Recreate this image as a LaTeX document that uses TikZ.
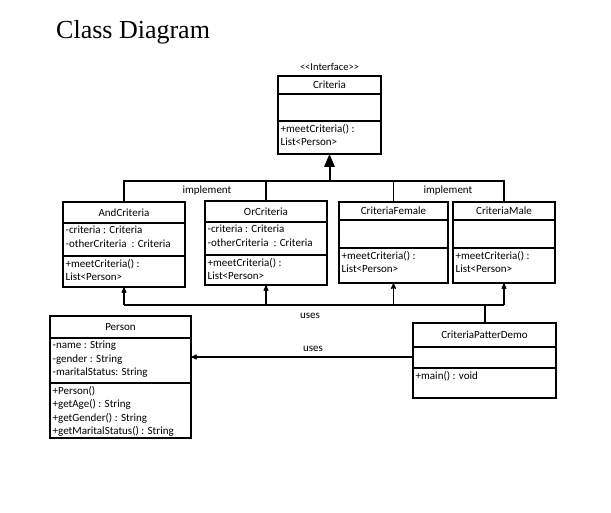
\documentclass[tikz,border=0pt]{standalone}
\usepackage{fontspec}
\setmainfont{Liberation Serif}
\setsansfont{Carlito}
\usetikzlibrary{arrows,calc}
\tikzset{
	classbox/.style = {rectangle, draw=black, line width=1.1pt, inner sep=0pt,
		outer sep=0pt, anchor=north west},% box of one class
	classname/.style = {inner sep=0pt, font=\sffamily\fontsize{11}{13}\selectfont},
	classtext/.style = {inner sep=0pt, align=left, anchor=north west,
		font=\sffamily\fontsize{11}{13.5}\selectfont},% attributes, methods
	linklabel/.style = {inner sep=0pt, font=\sffamily\fontsize{11}{13}\selectfont},
	bus/.style = {line width=1.3pt},
	uses/.style = {line width=1.1pt, -stealth'}
}
% name, top left, width, heights of the three parts, title, attributes, methods
\newcommand{\umlclass}[9]{%
	\node[classbox, minimum width=#3pt, minimum height=#4pt+#5pt+#6pt] (#1) at #2 {};
	\draw[line width=1.1pt] ($(#1.north west)+(0,#4)$) -- ($(#1.north east)+(0,#4)$);
	\draw[line width=1.1pt] ($(#1.north west)+(0,#4+#5)$) -- ($(#1.north east)+(0,#4+#5)$);
	\node[classname] (#1-name) at ($(#1.north)+(0,#4/2)$) {#7};
	\node[classtext] (#1-attr) at ($(#1.north west)+(2.5,#4+3)$) {#8};
	\node[classtext] (#1-meth) at ($(#1.north west)+(2.5,#4+#5+3)$) {#9};
}

\begin{document}
\begin{tikzpicture}[x=1pt,y=-1pt]
\useasboundingbox (0,0) rectangle (611,512);
\node[anchor=west, inner sep=0pt, font=\fontsize{26}{30}\selectfont] (title) at (56,32) {Class Diagram};

% interface and its implementations
\umlclass{crit}{(278,76)}{103}{18}{27}{33}{Criteria}{}{+meetCriteria() :\\List<Person>}
\node[linklabel, font=\sffamily\fontsize{10.5}{12}\selectfont] (stereo) at ($(crit.north)+(0,-9)$) {<{}<Interface>{}>};
\umlclass{and}{(63,202)}{122}{21}{33}{31}{AndCriteria}{-criteria : Criteria\\-otherCriteria~ : Criteria}{+meetCriteria() :\\List<Person>}
\umlclass{or}{(205,201)}{122}{21}{33}{30}{OrCriteria}{-criteria : Criteria\\-otherCriteria~ : Criteria}{+meetCriteria() :\\List<Person>}
\umlclass{female}{(339,202)}{109}{18}{28}{35}{CriteriaFemale}{}{+meetCriteria() :\\List<Person>}
\umlclass{male}{(453,202)}{102}{18}{28}{35}{CriteriaMale}{}{+meetCriteria() :\\List<Person>}

% person and demo
\umlclass{person}{(50,316)}{141}{22}{45}{55}{Person}{-name : String\\-gender : String\\-maritalStatus: String}{+Person()\\+getAge() : String\\+getGender() : String\\+getMaritalStatus() : String}
\umlclass{demo}{(413,323)}{143}{24}{21}{30}{CriteriaPatterDemo}{}{+main() : void}

% implement
\coordinate (topbus) at (0,181);
\draw[bus] (and.north) -- (and.north |- topbus) -- (male.north |- topbus) -- (male.north);
\draw[bus] (or.north) -- (or.north |- topbus);
\draw[bus] (female.north) -- (female.north |- topbus);
\draw[line width=2pt, -triangle 45] (crit.south |- topbus) -- (crit.south);
\node[linklabel] (impl1) at (207,191) {implement};
\node[linklabel] (impl2) at (448,191) {implement};

% uses
\coordinate (lowbus) at (0,305);
\draw[bus] (and.south |- lowbus) -- (male.south |- lowbus);
\draw[line width=2pt] (demo.north) -- (demo.north |- lowbus);
\foreach \cls in {and,or,female,male}
	\draw[uses] (\cls.south |- lowbus) -- (\cls.south);
\node[linklabel] (uses1) at (310,316) {uses};
\coordinate (link) at (0,357);
\draw[uses] (demo.west |- link) -- (person.east |- link);
\node[linklabel] (uses2) at (313,349) {uses};
\end{tikzpicture}
\end{document}
